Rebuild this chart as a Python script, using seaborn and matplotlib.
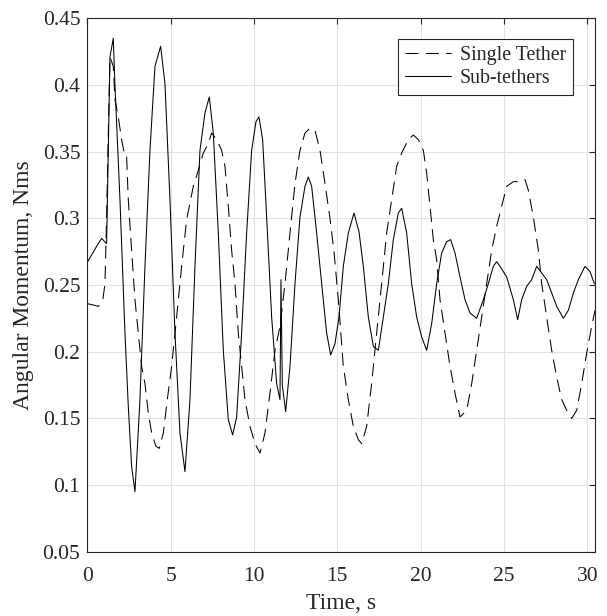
import numpy as np
import pandas as pd
import matplotlib
matplotlib.use("Agg")
import matplotlib.pyplot as plt
import seaborn as sns

# ---- data ----
single_t = [0.0, 0.36, 0.66, 0.92, 1.06, 1.16, 1.26, 1.36, 1.56, 1.66, 1.86, 2.06, 2.26, 2.36,
            2.46, 2.66, 2.86, 3.06, 3.26, 3.46, 3.66, 3.86, 4.12, 4.32, 4.56, 4.8, 5.06, 5.36,
            5.66, 5.96, 6.36, 6.66, 6.96, 7.26, 7.46, 7.76, 8.06, 8.26, 8.46, 8.66, 8.86, 9.06,
            9.26, 9.46, 9.76, 10.06, 10.36, 10.66, 10.96, 11.26, 11.56, 11.86, 12.16, 12.46,
            12.76, 13.06, 13.36, 13.66, 13.96, 14.26, 14.56, 14.8, 15.06, 15.36, 15.66, 15.96,
            16.26, 16.46, 16.76, 17.06, 17.36, 17.66, 17.96, 18.26, 18.56, 18.86, 19.26, 19.56,
            19.86, 20.16, 20.36, 20.56, 20.76, 20.96, 21.16, 21.46, 21.76, 22.06, 22.36, 22.76,
            23.06, 23.36, 23.66, 23.96, 24.26, 24.56, 24.86, 25.16, 25.56, 25.96, 26.26, 26.46,
            26.76, 27.06, 27.26, 27.56, 27.86, 28.16, 28.46, 28.76, 29.06, 29.36, 29.66, 29.96,
            30.26, 30.46]
single_v = [0.236, 0.235, 0.234, 0.2375, 0.251, 0.301, 0.364, 0.421, 0.414, 0.389, 0.376, 0.359,
            0.346, 0.346, 0.314, 0.276, 0.239, 0.214, 0.189, 0.176, 0.154, 0.139, 0.129, 0.1275,
            0.139, 0.164, 0.189, 0.226, 0.264, 0.299, 0.324, 0.336, 0.349, 0.356, 0.364, 0.359,
            0.351, 0.339, 0.309, 0.276, 0.251, 0.214, 0.189, 0.164, 0.144, 0.131, 0.124, 0.139,
            0.169, 0.201, 0.219, 0.251, 0.289, 0.326, 0.351, 0.364, 0.3675, 0.366, 0.351, 0.326,
            0.30, 0.275, 0.239, 0.189, 0.164, 0.144, 0.134, 0.131, 0.144, 0.176, 0.214, 0.251,
            0.289, 0.314, 0.339, 0.349, 0.359, 0.3625, 0.359, 0.351, 0.334, 0.309, 0.284, 0.269,
            0.239, 0.214, 0.189, 0.169, 0.151, 0.156, 0.176, 0.201, 0.226, 0.251, 0.276, 0.294,
            0.309, 0.324, 0.3275, 0.3275, 0.329, 0.321, 0.301, 0.276, 0.251, 0.226, 0.201, 0.181,
            0.164, 0.156, 0.15, 0.156, 0.176, 0.199, 0.219, 0.231]

sub_t = [0.0, 0.26, 0.56, 0.86, 1.16, 1.36, 1.56, 1.66, 1.96, 2.26, 2.46, 2.66, 2.86, 3.16, 3.46,
         3.76, 4.06, 4.4, 4.66, 4.96, 5.26, 5.56, 5.86, 6.16, 6.46, 6.76, 7.06, 7.32, 7.56, 7.86,
         8.16, 8.46, 8.72, 8.96, 9.26, 9.56, 9.86, 10.12, 10.3, 10.52, 10.76, 11.06, 11.36, 11.56,
         11.62, 11.70, 11.9, 12.16, 12.46, 12.76, 13.06, 13.26, 13.46, 13.76, 14.06, 14.36, 14.6,
         14.86, 15.1, 15.36, 15.66, 16.0, 16.3, 16.56, 16.86, 17.16, 17.46, 17.76, 18.06, 18.36,
         18.66, 18.86, 19.16, 19.46, 19.76, 20.06, 20.36, 20.66, 20.96, 21.26, 21.56, 21.8, 22.06,
         22.36, 22.66, 22.96, 23.36, 23.76, 24.06, 24.36, 24.56, 24.76, 25.16, 25.56, 25.82, 26.06,
         26.36, 26.66, 26.96, 27.26, 27.56, 27.86, 28.16, 28.56, 28.86, 29.16, 29.46, 29.86, 30.16,
         30.42]
sub_v = [0.267, 0.2725, 0.279, 0.285, 0.281, 0.421, 0.435, 0.40, 0.314, 0.214, 0.159, 0.114, 0.095,
         0.164, 0.264, 0.351, 0.414, 0.429, 0.401, 0.314, 0.214, 0.139, 0.11, 0.164, 0.264, 0.351,
         0.379, 0.391, 0.364, 0.289, 0.201, 0.149, 0.1375, 0.151, 0.214, 0.289, 0.351, 0.3725,
         0.376, 0.359, 0.301, 0.226, 0.176, 0.164, 0.254, 0.175, 0.155, 0.189, 0.251, 0.301, 0.324,
         0.331, 0.324, 0.289, 0.251, 0.214, 0.1975, 0.206, 0.226, 0.264, 0.289, 0.304, 0.29, 0.264,
         0.226, 0.204, 0.201, 0.226, 0.251, 0.284, 0.304, 0.3075, 0.289, 0.251, 0.226, 0.211, 0.201,
         0.221, 0.251, 0.274, 0.2825, 0.284, 0.274, 0.256, 0.239, 0.229, 0.225, 0.239, 0.251, 0.264,
         0.2675, 0.264, 0.256, 0.239, 0.224, 0.239, 0.249, 0.254, 0.264, 0.259, 0.254, 0.244, 0.234,
         0.225, 0.231, 0.244, 0.254, 0.264, 0.26, 0.251]

series_names = ["Single Tether", "Sub-tethers"]
x_ticks = [0, 5, 10, 15, 20, 25, 30]
y_ticks = [0.05, 0.1, 0.15, 0.2, 0.25, 0.3, 0.35, 0.4, 0.45]
y_tick_labels = ["0.05", "0.1", "0.15", "0.2", "0.25", "0.3", "0.35", "0.4", "0.45"]

df_single = pd.DataFrame({"t": single_t, "v": single_v})
df_sub = pd.DataFrame({"t": sub_t, "v": sub_v})

sns.set_theme(style="white")
plt.rcParams["font.family"] = ["Liberation Serif", "DejaVu Serif"]

fig = plt.figure(figsize=(6.07, 6.16), dpi=100)
ax = fig.add_axes([0.1438, 0.1044, 0.8362, 0.8659])

sns.lineplot(data=df_single, x="t", y="v", ax=ax, color="black", linewidth=0.75,
             label=series_names[0], sort=False)
sns.lineplot(data=df_sub, x="t", y="v", ax=ax, color="black", linewidth=0.75,
             label=series_names[1], sort=False)
ax.lines[0].set_dashes((12.5, 7))

ax.set_xlim(0, 30.45)
ax.set_ylim(0.05, 0.45)
ax.set_xticks(x_ticks)
ax.set_yticks(y_ticks)
ax.set_yticklabels(y_tick_labels)
ax.grid(True, color="#e2e2e2", linewidth=0.8)
ax.set_axisbelow(True)

for s in ax.spines.values():
    s.set_visible(True)
    s.set_color("#262626")
    s.set_linewidth(0.8)

ax.tick_params(direction="in", length=4.5, width=0.8, color="#262626",
               top=True, right=True, labelsize=15.5, labelcolor="#262626", pad=5)
ax.tick_params(axis="x", pad=11)

ax.set_xlabel("Time, s", fontsize=17, color="#262626", labelpad=5)
ax.set_ylabel("Angular Momentum, Nms", fontsize=17, color="#262626", labelpad=6)

leg = ax.legend(loc="upper right", bbox_to_anchor=(0.957, 0.961), borderaxespad=0,
                fontsize=14.3, frameon=True, fancybox=False, framealpha=1,
                edgecolor="#262626", borderpad=0.35, handlelength=2.3,
                handletextpad=0.45, labelspacing=0.22)
leg.get_frame().set_linewidth(0.8)
for txt in leg.get_texts():
    txt.set_color("#262626")

fig.savefig("out.png", dpi=100)
